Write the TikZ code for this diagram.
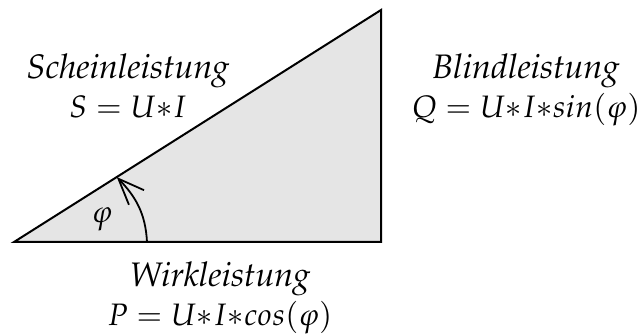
\documentclass[tikz,border=0pt]{standalone}
\usepackage[T1]{fontenc}
\usepackage{mathpazo}
\usetikzlibrary{arrows.meta,calc}
\newcommand{\pwreq}[1]{{\fontsize{31}{39}\selectfont$#1$}}

\begin{document}
\begin{tikzpicture}[x=1pt,y=1pt,
  powerlabel/.style={align=center,font=\fontsize{34}{39}\selectfont,inner sep=0pt},
  powerarr/.style={-{Straight Barb[length=26pt,width=21pt]},line width=1.8pt}
]
  \useasboundingbox (0,0) rectangle (643,335);
  % Power triangle
  \coordinate (A) at (14,93);
  \coordinate (B) at (381,93);
  \coordinate (C) at (381,325);
  \draw[fill=gray!20,line width=2pt] (A) -- (B) -- (C) -- cycle;
  % Angle arrow
  \coordinate (arcstart) at (147,93);
  \coordinate (arcend) at ($(A)!0.28!(C)$);
  \draw[powerarr] (arcstart) to[out=93,in=-46] (arcend);
  \node[powerlabel,font=\fontsize{31}{39}\selectfont] (phi) at (102,116) {$\varphi$};
  % Labels of the three sides
  \node[powerlabel,anchor=base] (schein) at (128,217) {\textit{Scheinleistung}\\\pwreq{S = U{\ast}I}};
  \node[powerlabel,anchor=base] (blind) at (526,217) {\textit{Blindleistung}\\\pwreq{Q = U{\ast}I{\ast}sin(\varphi)}};
  \node[powerlabel,anchor=base] (wirk) at (220,10) {\textit{Wirkleistung}\\\pwreq{P = U{\ast}I{\ast}cos(\varphi)}};
\end{tikzpicture}
\end{document}
